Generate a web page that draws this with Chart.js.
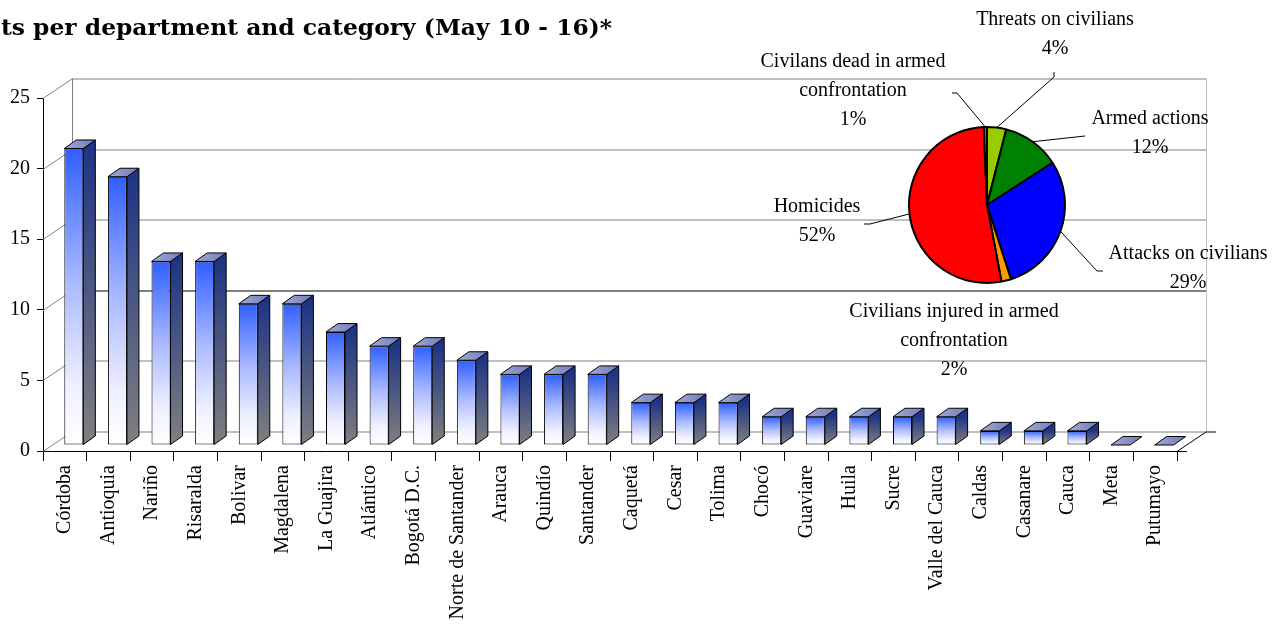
<!DOCTYPE html>
<html><head><meta charset="utf-8">
<script src="https://cdn.jsdelivr.net/npm/chart.js@4.4.0/dist/chart.umd.min.js"></script>
<style>
html,body{margin:0;padding:0;background:#fff;}
#wrap{position:relative;width:1279px;height:628px;overflow:hidden;background:#fff;}
#wrap canvas{position:absolute;left:0;top:0;}
#pie{pointer-events:none;}
</style></head><body>
<div id="wrap"><canvas id="bar" width="1279" height="628"></canvas><canvas id="pie" width="1279" height="628"></canvas></div>
<script>
// ---------- data ----------
const departments = ['Córdoba','Antioquia','Nariño','Risaralda','Bolivar','Magdalena','La Guajira','Atlántico','Bogotá D.C.','Norte de Santander','Arauca','Quindío','Santander','Caquetá','Cesar','Tolima','Chocó','Guaviare','Huila','Sucre','Valle del Cauca','Caldas','Casanare','Cauca','Meta','Putumayo'];
const events = [21,19,13,13,10,10,8,7,7,6,5,5,5,3,3,3,2,2,2,2,2,1,1,1,0,0];
const yTickMin = 0, yTickMax = 25, yTickStep = 5;
const titleText = 'ts per department and category (May 10 - 16)*';

const pieCategories = [['Threats on civilians'],['Armed actions'],['Attacks on civilians'],['Civilians injured in armed','confrontation'],['Homicides'],['Civilans dead in armed','confrontation']];
const pieValues = [6,18,44,3,79,1];
const pieColors = ['#99cc00','#008000','#0000ff','#ff9900','#ff0000','#ff00ff'];

// ---------- layout ----------
const FONT = '"Liberation Serif", "Times New Roman", serif';
const TITLE_FONT = '"DejaVu Serif", "Liberation Serif", serif';
const WALL = {dx: 29, dy: -19.5};
const BAR = {dx: 9, dy: -6, depthX: 12, depthY: -8.5};
const TITLE = {left: 1, right: 612, baseline: 35, size: 22};
const pieLayout = [
  {x:1055, y:20,  leader:[[1054,77],[1054,72]]},
  {x:1150, y:119, leader:[[1085,136]]},
  {x:1188, y:254, leader:[[1097,271],[1103,271]]},
  {x:954,  y:312, leader:null},
  {x:817,  y:207, leader:[[870,224],[864,224]]},
  {x:853,  y:62,  leader:[[957,93],[952,93]]}
];

function seg(ctx,x1,y1,x2,y2){ctx.beginPath();ctx.moveTo(x1,y1);ctx.lineTo(x2,y2);ctx.stroke();}

function frontGradient(c){
  const ch = c.chart, y = ch.scales.y;
  if (!y || !ch.chartArea) return '#3366ff';
  const top = y.getPixelForValue(c.raw), base = y.getPixelForValue(0);
  if (base - top < 1) return '#8f97c9';
  const g = ch.ctx.createLinearGradient(0, top, 0, base);
  g.addColorStop(0, '#2f5fff');
  g.addColorStop(0.45, '#aab9ff');
  g.addColorStop(0.8, '#eef0ff');
  g.addColorStop(1, '#ffffff');
  return g;
}

const wallPlugin = {
  id: 'wall',
  beforeDatasetsDraw(chart){
    const {ctx, chartArea:a, scales:{y}} = chart;
    const dx = WALL.dx, dy = WALL.dy;
    ctx.save();
    ctx.lineWidth = 1;
    y.ticks.forEach(t => {
      const py = Math.round(y.getPixelForValue(t.value)) + 0.5;
      ctx.strokeStyle = t.value === 10 ? '#000000' : '#808080';
      seg(ctx, a.left+dx, py+dy, a.right+dx, py+dy);
      ctx.strokeStyle = '#808080';
      seg(ctx, a.left, py, a.left+dx, py+dy);
    });
    ctx.strokeStyle = '#808080';
    seg(ctx, a.left+dx+0.5, a.top+dy, a.left+dx+0.5, a.bottom+dy);
    ctx.strokeStyle = '#c0c0c0';
    seg(ctx, a.right+dx+0.5, a.top+dy, a.right+dx+0.5, a.bottom+dy);
    ctx.strokeStyle = '#000000';
    seg(ctx, a.right, a.bottom+0.5, a.right+dx, a.bottom+dy+0.5);
    seg(ctx, a.right+dx, a.bottom+dy+0.5, a.right+dx+10, a.bottom+dy+0.5);
    seg(ctx, a.right, a.bottom+0.5, a.right+10, a.bottom+0.5);
    ctx.restore();
    ctx.save();
    ctx.translate(BAR.dx, BAR.dy);
  },
  afterDatasetsDraw(chart){
    const ctx = chart.ctx;
    const meta = chart.getDatasetMeta(0);
    const ddx = BAR.depthX, ddy = BAR.depthY;
    meta.data.forEach(el => {
      const p = el.getProps(['x','y','base','width'], true);
      const l = p.x - p.width/2, r = p.x + p.width/2, t = Math.min(p.y,p.base), b = Math.max(p.y,p.base);
      ctx.lineWidth = 1;
      ctx.strokeStyle = '#000';
      if (b - t > 0.5) {
        const gs = ctx.createLinearGradient(0, t, 0, b);
        gs.addColorStop(0, '#1f3584');
        gs.addColorStop(1, '#808080');
        ctx.fillStyle = gs;
        ctx.beginPath();
        ctx.moveTo(r, t); ctx.lineTo(r+ddx, t+ddy); ctx.lineTo(r+ddx, b+ddy); ctx.lineTo(r, b); ctx.closePath();
        ctx.fill(); ctx.stroke();
      }
      const gt = ctx.createLinearGradient(l, 0, r+ddx, 0);
      gt.addColorStop(0, '#a4aad2');
      gt.addColorStop(1, '#6f7bbd');
      ctx.fillStyle = gt;
      ctx.beginPath();
      ctx.moveTo(l, t); ctx.lineTo(l+ddx, t+ddy); ctx.lineTo(r+ddx, t+ddy); ctx.lineTo(r, t); ctx.closePath();
      ctx.fill(); ctx.stroke();
    });
    ctx.restore();
  },
  afterDraw(chart){
    const ctx = chart.ctx;
    ctx.save();
    ctx.font = 'bold ' + TITLE.size + 'px ' + TITLE_FONT;
    ctx.fillStyle = '#000';
    ctx.textAlign = 'left';
    ctx.textBaseline = 'alphabetic';
    const w = ctx.measureText(titleText).width;
    const k = (TITLE.right - TITLE.left) / w;
    ctx.translate(TITLE.left, TITLE.baseline);
    ctx.scale(k, 1);
    ctx.fillText(titleText, 0, 0);
    ctx.restore();
  }
};

new Chart(document.getElementById('bar'), {
  type: 'bar',
  data: {
    labels: departments,
    datasets: [{
      data: events,
      backgroundColor: frontGradient,
      borderColor: '#000',
      borderWidth: 1,
      borderSkipped: false,
      categoryPercentage: 1,
      barPercentage: 0.436
    }]
  },
  options: {
    responsive: false,
    animation: false,
    devicePixelRatio: 1,
    layout: {padding: {top: 98, left: 0, right: 102, bottom: 0}},
    plugins: {legend: {display: false}, tooltip: {enabled: false}, title: {display: false}},
    scales: {
      x: {
        grid: {display: true, drawOnChartArea: false, drawTicks: true, tickLength: 10, color: '#000', offset: true},
        border: {display: true, color: '#000'},
        ticks: {autoSkip: false, minRotation: 90, maxRotation: 90, padding: 4, color: '#000', font: {family: FONT, size: 20}},
        afterFit(s){ s.height = 177; }
      },
      y: {
        min: yTickMin, max: yTickMax,
        grid: {display: true, drawOnChartArea: false, drawTicks: true, tickLength: 6, color: '#000'},
        border: {display: true, color: '#000'},
        ticks: {stepSize: yTickStep, padding: 7, color: '#000', font: {family: FONT, size: 20}},
        afterFit(s){ s.width = 43; }
      }
    }
  },
  plugins: [wallPlugin]
});

const pieLabelPlugin = {
  id: 'pieLabels',
  afterDraw(chart){
    const ctx = chart.ctx;
    const meta = chart.getDatasetMeta(0);
    const total = pieValues.reduce((s,v)=>s+v,0);
    ctx.save();
    ctx.strokeStyle = '#000';
    ctx.lineWidth = 1;
    meta.data.forEach((arc, i) => {
      const L = pieLayout[i];
      const p = arc.getProps(['x','y','startAngle','endAngle','outerRadius'], true);
      const mid = (p.startAngle + p.endAngle)/2;
      if (L.leader) {
        ctx.beginPath();
        ctx.moveTo(p.x + Math.cos(mid)*p.outerRadius, p.y + Math.sin(mid)*p.outerRadius);
        L.leader.forEach(pt => ctx.lineTo(pt[0], pt[1]));
        ctx.stroke();
      }
      const lines = pieCategories[i].concat([Math.round(pieValues[i]/total*100) + '%']);
      ctx.font = '20px ' + FONT;
      ctx.fillStyle = '#000';
      ctx.textAlign = 'center';
      ctx.textBaseline = 'middle';
      lines.forEach((s, k) => ctx.fillText(s, L.x, L.y + k*29));
    });
    ctx.restore();
  }
};

new Chart(document.getElementById('pie'), {
  type: 'pie',
  data: {
    labels: pieCategories.map(a => a.join(' ')),
    datasets: [{data: pieValues, backgroundColor: pieColors, borderColor: '#000', borderWidth: 2}]
  },
  options: {
    responsive: false,
    animation: false,
    devicePixelRatio: 1,
    radius: 78,
    layout: {padding: {left: 695, right: 0, top: 0, bottom: 218}},
    plugins: {legend: {display: false}, tooltip: {enabled: false}}
  },
  plugins: [pieLabelPlugin]
});
</script>
</body></html>
